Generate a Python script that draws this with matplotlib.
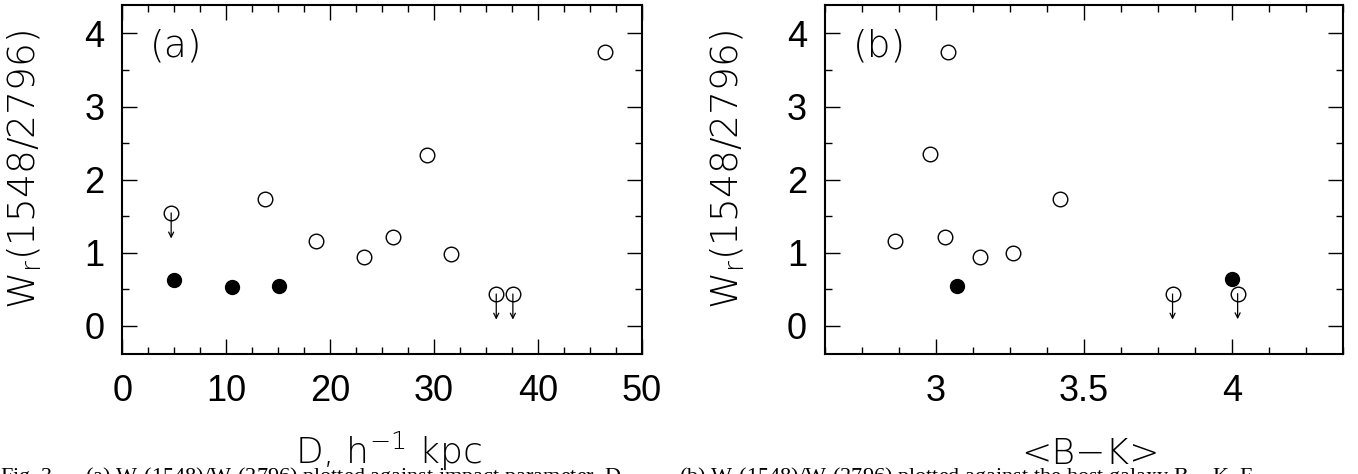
import matplotlib
matplotlib.use("Agg")
import matplotlib.pyplot as plt
from matplotlib.ticker import MultipleLocator

# ---- data ----
# panel (a): W_r(1548)/W_r(2796) vs impact parameter D
a_open_x = [13.7, 18.6, 23.3, 26.1, 29.3, 31.6, 46.5]
a_open_y = [1.73, 1.16, 0.94, 1.22, 2.34, 0.98, 3.75]
a_lim_x = [4.7, 36.0, 37.6]
a_lim_y = [1.545, 0.435, 0.435]
a_fill_x = [5.0, 10.6, 15.1]
a_fill_y = [0.63, 0.53, 0.54]

# panel (b): W_r(1548)/W_r(2796) vs <B-K>
b_open_x = [2.86, 2.98, 3.04, 3.03, 3.15, 3.26, 3.42]
b_open_y = [1.16, 2.345, 3.75, 1.22, 0.94, 0.99, 1.73]
b_lim_x = [3.80, 4.02]
b_lim_y = [0.435, 0.44]
b_fill_x = [3.07, 4.00]
b_fill_y = [0.54, 0.64]

arrow_len = 0.35

ylabel_text = "W$_\\mathregular{r}$(1548/2796)"
xlabels = ["D, h$^\\mathregular{-1}$ kpc", "<B\u2212K>"]
panel_tags = ["(a)", "(b)"]
xlims = [(0, 50), (2.625, 4.375)]
ylims = (-0.39, 4.39)
x_major = [10, 0.5]
x_minor = [2.5, 0.125]

caption_a = "Fig. 3.\u2014 (a) W$_r$(1548)/W$_r$(2796) plotted against impact parameter, D."
caption_b = "(b) W$_r$(1548)/W$_r$(2796) plotted against the host galaxy B \u2212 K. F"

tick_font = "Liberation Sans"
label_font = ["DejaVu Sans"]

fig = plt.figure(figsize=(13.58, 4.74), dpi=100)
ax_a = fig.add_axes([0.0901, 0.2525, 0.3824, 0.7370])
ax_b = fig.add_axes([0.6075, 0.2525, 0.3812, 0.7370])

panels = [
    (ax_a, a_open_x, a_open_y, a_lim_x, a_lim_y, a_fill_x, a_fill_y),
    (ax_b, b_open_x, b_open_y, b_lim_x, b_lim_y, b_fill_x, b_fill_y),
]

for i, (ax, ox, oy, lx, ly, fx, fy) in enumerate(panels):
    ax.set_xlim(*xlims[i])
    ax.set_ylim(*ylims)
    ax.plot(ox, oy, linestyle="none", marker="o", markersize=10.5,
            markerfacecolor="white", markeredgecolor="black", markeredgewidth=1.0)
    ax.plot(lx, ly, linestyle="none", marker="o", markersize=10.5,
            markerfacecolor="white", markeredgecolor="black", markeredgewidth=1.0)
    for x0, y0 in zip(lx, ly):
        ax.annotate("", xy=(x0, y0 - arrow_len), xytext=(x0, y0),
                    arrowprops=dict(arrowstyle="->", lw=0.9, color="black",
                                    shrinkA=0, shrinkB=0, mutation_scale=9))
    ax.plot(fx, fy, linestyle="none", marker="o", markersize=10,
            markerfacecolor="black", markeredgecolor="black")

    ax.xaxis.set_major_locator(MultipleLocator(x_major[i]))
    ax.xaxis.set_minor_locator(MultipleLocator(x_minor[i]))
    ax.yaxis.set_major_locator(MultipleLocator(1))
    ax.yaxis.set_minor_locator(MultipleLocator(0.5))
    ax.tick_params(which="both", direction="in", top=True, right=True,
                   color="black", width=1.0)
    ax.tick_params(which="major", length=11)
    ax.tick_params(which="minor", length=5.3)
    ax.tick_params(axis="x", which="major", pad=14)
    ax.tick_params(axis="y", which="major", pad=13)
    for lab in ax.get_xticklabels() + ax.get_yticklabels():
        lab.set_fontfamily(tick_font)
        lab.set_fontsize(26)
    for sp in ax.spines.values():
        sp.set_linewidth(1.5)
    if i == 1:
        ax.set_xticks([3, 3.5, 4])
        ax.set_xticklabels(["3", "3.5", "4"], fontfamily=tick_font, fontsize=26)

    ax.set_ylabel(ylabel_text, fontsize=27, family=label_font, fontweight="light")
    ax.yaxis.set_label_coords(-0.150, 0.53)
    ax.set_xlabel(xlabels[i], fontsize=26, family=label_font, fontweight="light")
    ax.xaxis.label.set_va("baseline")
    ax.xaxis.set_label_coords(0.512, -0.314)

    ax.text(0.053, 0.934, panel_tags[i], transform=ax.transAxes, fontsize=27,
            family=label_font, fontweight="light", va="top", ha="left")

# cut-off figure caption at the bottom of the page
cap_y = 1 - 465 / 474
fig.text(0.0, cap_y, caption_a, family="Liberation Serif", fontsize=16, va="top", ha="left")
fig.text(0.5, cap_y, caption_b, family="Liberation Serif", fontsize=16, va="top", ha="left")

fig.savefig("out.png", dpi=100)
